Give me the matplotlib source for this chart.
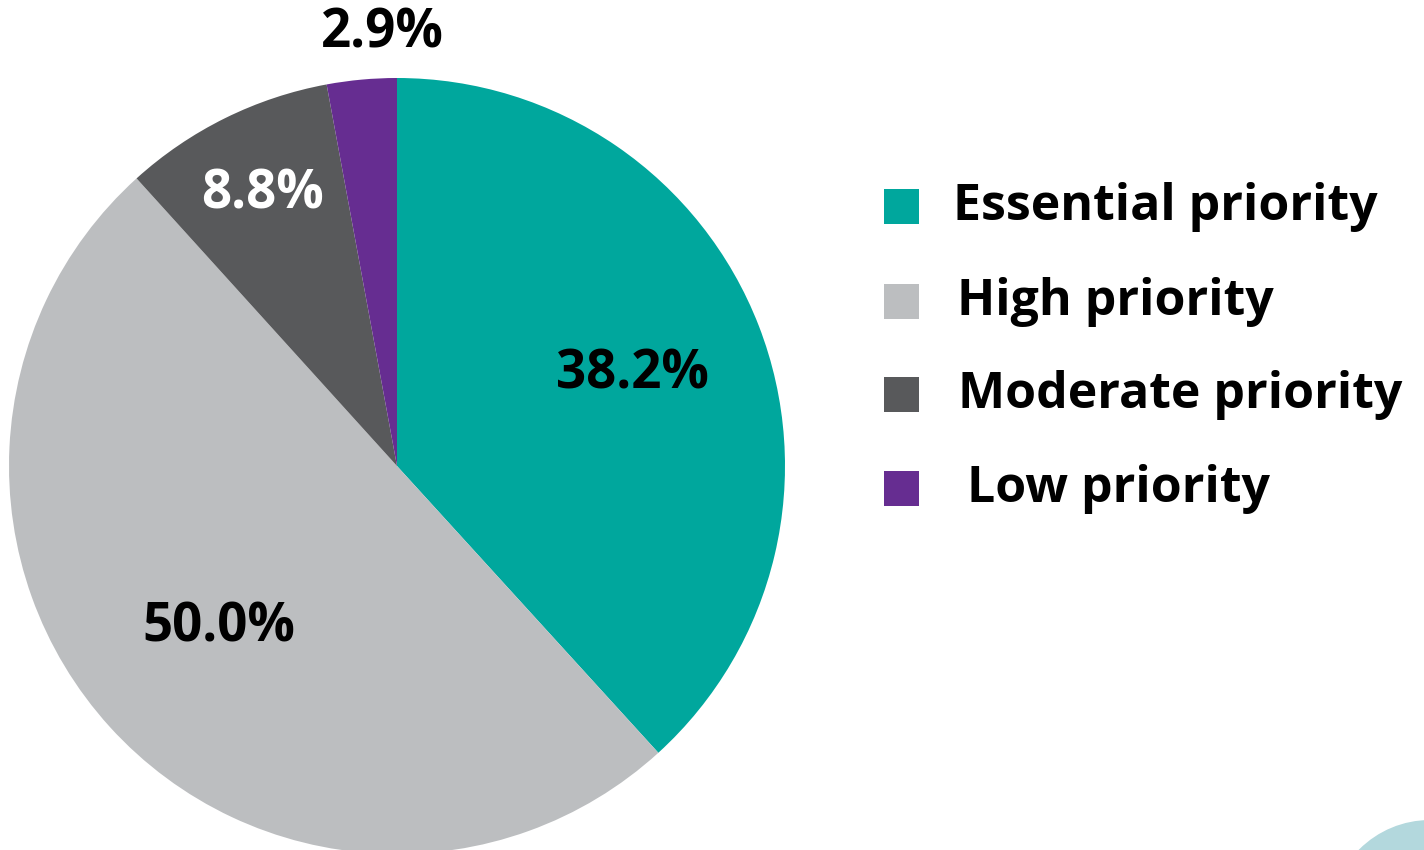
import matplotlib
matplotlib.use("Agg")
import matplotlib.pyplot as plt
from matplotlib.patches import Rectangle, Circle
import numpy as np

categories = ["Essential priority", "High priority", "Moderate priority", "Low priority"]
values = [38.2, 50.0, 8.8, 2.9]
labels = ["38.2%", "50.0%", "8.8%", "2.9%"]
colors = ["#00A79D", "#BCBEC0", "#58595B", "#662D91"]
label_colors = ["black", "black", "white", "black"]
label_dist = [0.65, 0.62, 0.78, 1.115]
label_dang = [0, 0, 0, -3.3]

plt.rcParams['font.family'] = ['Open Sans', 'DejaVu Sans']

W, H = 1424, 850
fig = plt.figure(figsize=(W / 100, H / 100), dpi=100)
ax = fig.add_axes([0, 0, 1, 1])

cx, cy, R = 397, 850 - 466, 388
wedges, _ = ax.pie(values, colors=colors, startangle=90, counterclock=False,
                   center=(cx, cy), radius=R, frame=True,
                   wedgeprops=dict(linewidth=0))
ax.set_xlim(0, W)
ax.set_ylim(0, H)
ax.set_aspect('equal')
ax.axis('off')

for w, lab, lc, d, da in zip(wedges, labels, label_colors, label_dist, label_dang):
    ang = np.deg2rad((w.theta1 + w.theta2) / 2 + da)
    x = cx + d * R * np.cos(ang)
    y = cy + d * R * np.sin(ang)
    ax.text(x, y, lab, ha='center', va='center', fontsize=38, fontweight='bold', color=lc)

# legend
row_y = [850 - 207, 850 - 302, 850 - 395, 850 - 489]
text_x = [953, 957, 958, 967]
for cat, col, ry, tx in zip(categories, colors, row_y, text_x):
    ax.add_patch(Rectangle((884, ry - 17), 35, 35, facecolor=col, edgecolor='none'))
    ax.text(tx, ry, cat, ha='left', va='center', fontsize=36, fontweight='bold', color='black')

# decorative circle
ax.add_patch(Circle((1430, 850 - 920), 100, facecolor='#B3D8DD', edgecolor='none'))

fig.savefig("out.png", dpi=100)
